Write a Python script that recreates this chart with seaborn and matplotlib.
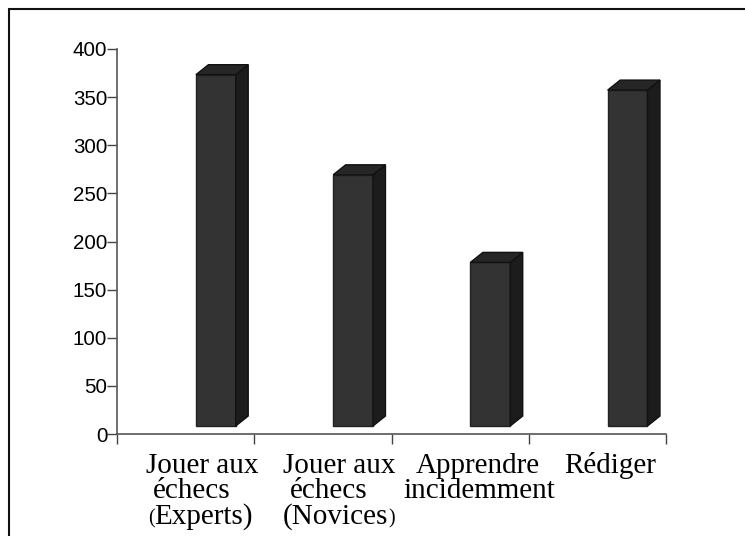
import matplotlib
matplotlib.use('Agg')
import matplotlib.pyplot as plt
import pandas as pd
import seaborn as sns
from matplotlib.lines import Line2D
from matplotlib.patches import Polygon

activities = ['Experts', 'Novices', 'Apprendre', 'Rediger']
values = [365, 261, 170, 349]
y_ticks = [0, 50, 100, 150, 200, 250, 300, 350, 400]

df = pd.DataFrame({'activity': activities, 'value': values})

W, H = 745, 536
sns.set_style('white')
plt.rcParams['font.family'] = ['Liberation Sans', 'DejaVu Sans']
fig = plt.figure(figsize=(W / 100, H / 100), dpi=100)
ax = fig.add_axes([117 / W, 1 - 434 / H, (666 - 117) / W, (434 - 49) / H])

# floating baseline, like the old 3d chart
base = 8.3
sns.barplot(data=df, x='activity', y='value', color='#333333', saturation=1,
            width=0.29, bottom=base, edgecolor='#222222', linewidth=1, ax=ax)

ax.set_xlim(-0.72, 3.28)
ax.set_ylim(0, 400)
ax.set_yticks(y_ticks)
ax.set_xticks([-0.72, 0.28, 1.28, 2.28, 3.28])
ax.set_xticklabels([])
ax.set_xlabel('')
ax.set_ylabel('')
ax.tick_params(axis='y', direction='out', length=7, width=1, color='#444444',
               labelsize=14.8, pad=0, left=True, labelcolor='black')
ax.tick_params(axis='x', direction='out', length=7, width=1, color='#444444', bottom=True)
for s in ['top', 'right']:
    ax.spines[s].set_visible(False)
for s in ['left', 'bottom']:
    ax.spines[s].set_color('#555555')
    ax.spines[s].set_linewidth(1.2)

# side and top faces of each bar, offset in pixels
dx = 12.5 * 4 / (666 - 117)
dy = 10 * 400 / (434 - 49)
for p in list(ax.patches):
    x0, x1 = p.get_x(), p.get_x() + p.get_width()
    y0, y1 = p.get_y(), p.get_y() + p.get_height()
    ax.add_patch(Polygon([(x1, y0), (x1 + dx, y0 + dy), (x1 + dx, y1 + dy), (x1, y1)],
                         closed=True, facecolor='#1c1c1c', edgecolor='#111111', linewidth=1))
    ax.add_patch(Polygon([(x0, y1), (x0 + dx, y1 + dy), (x1 + dx, y1 + dy), (x1, y1)],
                         closed=True, facecolor='#262626', edgecolor='#111111', linewidth=1))

# category labels placed by hand, some brackets are smaller in the original
big = 21
small = 14.5
label_bits = [
    ('Jouer aux', 146, 473, big),
    ('échecs', 153, 498, big),
    ('(', 148, 523, small),
    ('Experts)', 154, 524, big),
    ('Jouer aux', 283, 473, big),
    ('échecs', 290, 498, big),
    ('(Novices', 283, 524, big),
    (')', 388, 523, small),
    ('Apprendre', 416, 473, big),
    ('incidemment', 403, 498, big),
    ('Rédiger', 564, 473, big),
]
for txt, x, y, size in label_bits:
    fig.text(x / W, 1 - y / H, txt, family=['Liberation Serif'], fontsize=size,
             ha='left', va='baseline', color='black')

# outer frame: only top and left edges show
frame = dict(transform=fig.transFigure, color='#111111', linewidth=1.5)
fig.add_artist(Line2D([9 / W, 1], [1 - 9 / H, 1 - 9 / H], **frame))
fig.add_artist(Line2D([9 / W, 9 / W], [0, 1 - 9 / H], **frame))

fig.savefig('out.png', dpi=100)
